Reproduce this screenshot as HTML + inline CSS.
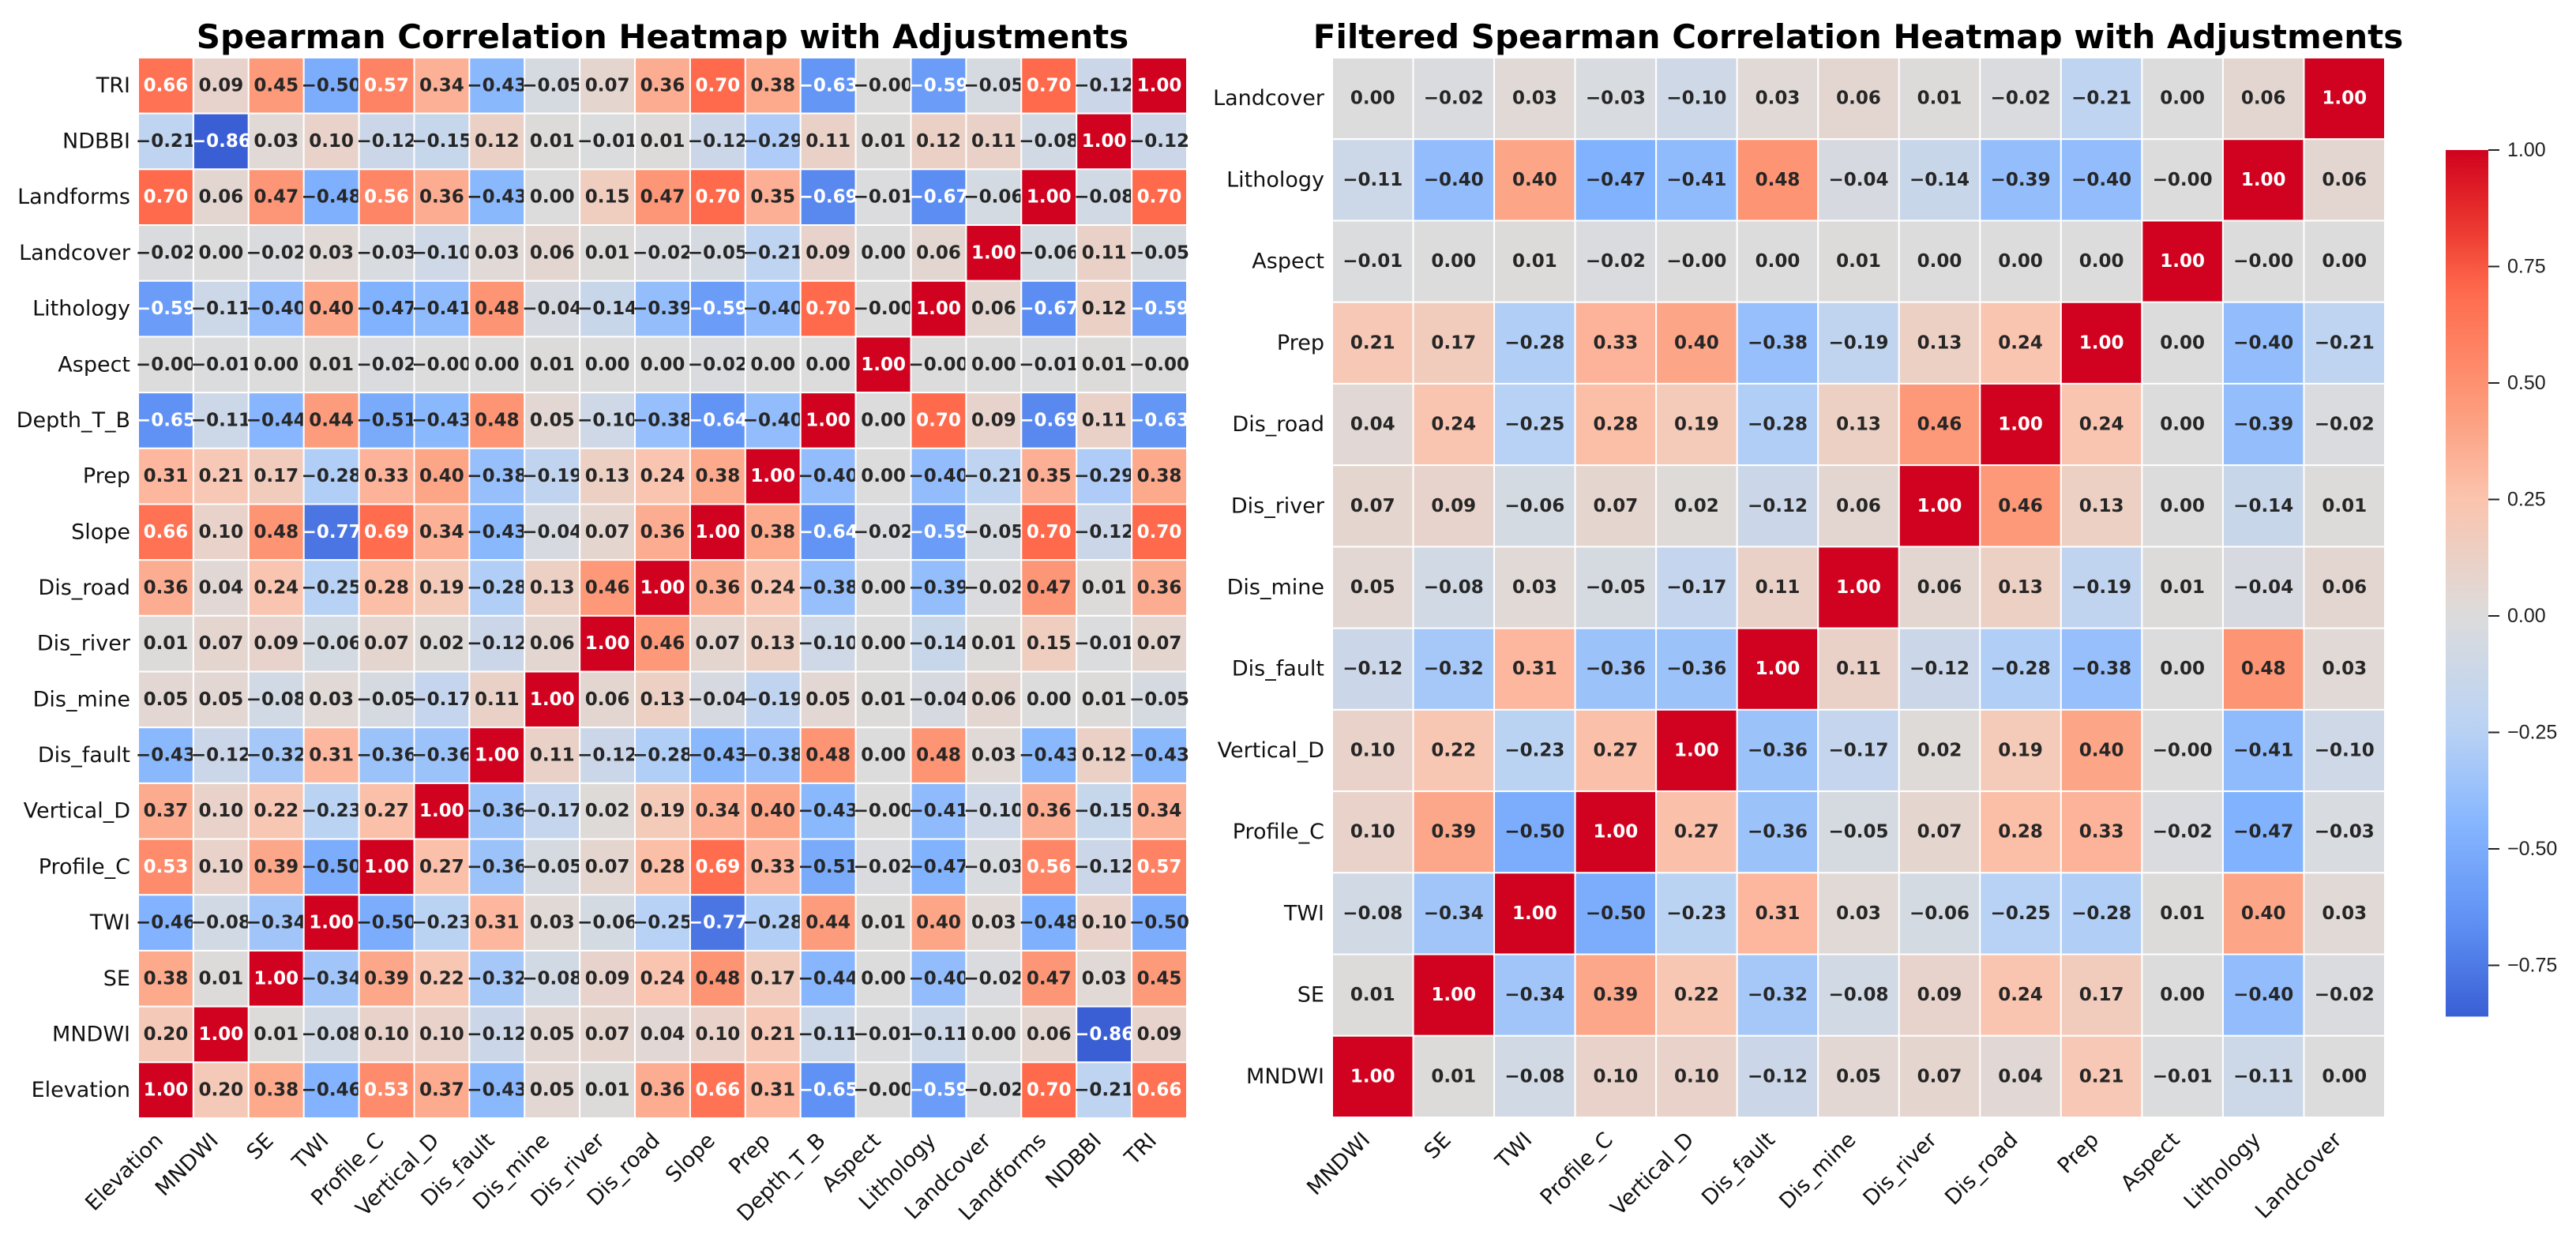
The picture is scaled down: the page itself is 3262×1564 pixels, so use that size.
<!DOCTYPE html>
<html><head><meta charset="utf-8">
<style>
html,body{margin:0;padding:0;background:#fff;}
svg{display:block;}
</style></head>
<body>
<svg id="chart" width="3262" height="1564" viewBox="0 0 3262 1564" xmlns="http://www.w3.org/2000/svg">
<text x="839" y="61" text-anchor="middle" font-family="DejaVu Sans, sans-serif" font-weight="bold" font-size="42">Spearman Correlation Heatmap with Adjustments</text>
<text x="2353" y="61" text-anchor="middle" font-family="DejaVu Sans, sans-serif" font-weight="bold" font-size="42">Filtered Spearman Correlation Heatmap with Adjustments</text>
<g id="left"></g>
<g id="right"></g>
<g id="cbar"></g>
</svg>
<script>
const leftRows = ["TRI","NDBBI","Landforms","Landcover","Lithology","Aspect","Depth_T_B","Prep","Slope","Dis_road","Dis_river","Dis_mine","Dis_fault","Vertical_D","Profile_C","TWI","SE","MNDWI","Elevation"];
const leftCols = ["Elevation","MNDWI","SE","TWI","Profile_C","Vertical_D","Dis_fault","Dis_mine","Dis_river","Dis_road","Slope","Prep","Depth_T_B","Aspect","Lithology","Landcover","Landforms","NDBBI","TRI"];
const leftValues = [
[0.66,0.09,0.45,-0.50,0.57,0.34,-0.43,-0.05,0.07,0.36,0.70,0.38,-0.63,-0.001,-0.59,-0.05,0.70,-0.12,1.00],
[-0.21,-0.86,0.03,0.10,-0.12,-0.15,0.12,0.01,-0.01,0.01,-0.12,-0.29,0.11,0.01,0.12,0.11,-0.08,1.00,-0.12],
[0.70,0.06,0.47,-0.48,0.56,0.36,-0.43,0.00,0.15,0.47,0.70,0.35,-0.69,-0.01,-0.67,-0.06,1.00,-0.08,0.70],
[-0.02,0.00,-0.02,0.03,-0.03,-0.10,0.03,0.06,0.01,-0.02,-0.05,-0.21,0.09,0.00,0.06,1.00,-0.06,0.11,-0.05],
[-0.59,-0.11,-0.40,0.40,-0.47,-0.41,0.48,-0.04,-0.14,-0.39,-0.59,-0.40,0.70,-0.001,1.00,0.06,-0.67,0.12,-0.59],
[-0.001,-0.01,0.00,0.01,-0.02,-0.001,0.00,0.01,0.00,0.00,-0.02,0.00,0.00,1.00,-0.001,0.00,-0.01,0.01,-0.001],
[-0.65,-0.11,-0.44,0.44,-0.51,-0.43,0.48,0.05,-0.10,-0.38,-0.64,-0.40,1.00,0.00,0.70,0.09,-0.69,0.11,-0.63],
[0.31,0.21,0.17,-0.28,0.33,0.40,-0.38,-0.19,0.13,0.24,0.38,1.00,-0.40,0.00,-0.40,-0.21,0.35,-0.29,0.38],
[0.66,0.10,0.48,-0.77,0.69,0.34,-0.43,-0.04,0.07,0.36,1.00,0.38,-0.64,-0.02,-0.59,-0.05,0.70,-0.12,0.70],
[0.36,0.04,0.24,-0.25,0.28,0.19,-0.28,0.13,0.46,1.00,0.36,0.24,-0.38,0.00,-0.39,-0.02,0.47,0.01,0.36],
[0.01,0.07,0.09,-0.06,0.07,0.02,-0.12,0.06,1.00,0.46,0.07,0.13,-0.10,0.00,-0.14,0.01,0.15,-0.01,0.07],
[0.05,0.05,-0.08,0.03,-0.05,-0.17,0.11,1.00,0.06,0.13,-0.04,-0.19,0.05,0.01,-0.04,0.06,0.00,0.01,-0.05],
[-0.43,-0.12,-0.32,0.31,-0.36,-0.36,1.00,0.11,-0.12,-0.28,-0.43,-0.38,0.48,0.00,0.48,0.03,-0.43,0.12,-0.43],
[0.37,0.10,0.22,-0.23,0.27,1.00,-0.36,-0.17,0.02,0.19,0.34,0.40,-0.43,-0.001,-0.41,-0.10,0.36,-0.15,0.34],
[0.53,0.10,0.39,-0.50,1.00,0.27,-0.36,-0.05,0.07,0.28,0.69,0.33,-0.51,-0.02,-0.47,-0.03,0.56,-0.12,0.57],
[-0.46,-0.08,-0.34,1.00,-0.50,-0.23,0.31,0.03,-0.06,-0.25,-0.77,-0.28,0.44,0.01,0.40,0.03,-0.48,0.10,-0.50],
[0.38,0.01,1.00,-0.34,0.39,0.22,-0.32,-0.08,0.09,0.24,0.48,0.17,-0.44,0.00,-0.40,-0.02,0.47,0.03,0.45],
[0.20,1.00,0.01,-0.08,0.10,0.10,-0.12,0.05,0.07,0.04,0.10,0.21,-0.11,-0.01,-0.11,0.00,0.06,-0.86,0.09],
[1.00,0.20,0.38,-0.46,0.53,0.37,-0.43,0.05,0.01,0.36,0.66,0.31,-0.65,-0.001,-0.59,-0.02,0.70,-0.21,0.66]
];
const rightRows = ["Landcover","Lithology","Aspect","Prep","Dis_road","Dis_river","Dis_mine","Dis_fault","Vertical_D","Profile_C","TWI","SE","MNDWI"];
const rightCols = ["MNDWI","SE","TWI","Profile_C","Vertical_D","Dis_fault","Dis_mine","Dis_river","Dis_road","Prep","Aspect","Lithology","Landcover"];
const rightValues = [
[0.00,-0.02,0.03,-0.03,-0.10,0.03,0.06,0.01,-0.02,-0.21,0.00,0.06,1.00],
[-0.11,-0.40,0.40,-0.47,-0.41,0.48,-0.04,-0.14,-0.39,-0.40,-0.001,1.00,0.06],
[-0.01,0.00,0.01,-0.02,-0.001,0.00,0.01,0.00,0.00,0.00,1.00,-0.001,0.00],
[0.21,0.17,-0.28,0.33,0.40,-0.38,-0.19,0.13,0.24,1.00,0.00,-0.40,-0.21],
[0.04,0.24,-0.25,0.28,0.19,-0.28,0.13,0.46,1.00,0.24,0.00,-0.39,-0.02],
[0.07,0.09,-0.06,0.07,0.02,-0.12,0.06,1.00,0.46,0.13,0.00,-0.14,0.01],
[0.05,-0.08,0.03,-0.05,-0.17,0.11,1.00,0.06,0.13,-0.19,0.01,-0.04,0.06],
[-0.12,-0.32,0.31,-0.36,-0.36,1.00,0.11,-0.12,-0.28,-0.38,0.00,0.48,0.03],
[0.10,0.22,-0.23,0.27,1.00,-0.36,-0.17,0.02,0.19,0.40,-0.001,-0.41,-0.10],
[0.10,0.39,-0.50,1.00,0.27,-0.36,-0.05,0.07,0.28,0.33,-0.02,-0.47,-0.03],
[-0.08,-0.34,1.00,-0.50,-0.23,0.31,0.03,-0.06,-0.25,-0.28,0.01,0.40,0.03],
[0.01,1.00,-0.34,0.39,0.22,-0.32,-0.08,0.09,0.24,0.17,0.00,-0.40,-0.02],
[1.00,0.01,-0.08,0.10,0.10,-0.12,0.05,0.07,0.04,0.21,-0.01,-0.11,0.00]
];
const cbarTicks = [1.00,0.75,0.50,0.25,0.00,-0.25,-0.50,-0.75];
const cbarMin = -0.86, cbarMax = 1.00;

const NS = "http://www.w3.org/2000/svg";
const stops = [[-0.86,[58,95,213]],[-0.65,[96,146,245]],[-0.45,[133,181,254]],[-0.25,[184,210,245]],[0,[220,220,220]],[0.25,[251,196,174]],[0.45,[253,154,122]],[0.7,[255,106,76]],[0.85,[233,50,45]],[1.0,[208,2,31]]];
function color(v){
  if(v<=stops[0][0]) return rgb(stops[0][1]);
  for(let i=1;i<stops.length;i++){
    if(v<=stops[i][0]){
      const a=stops[i-1],b=stops[i],t=(v-a[0])/(b[0]-a[0]);
      return rgb(a[1].map((c,k)=>c+(b[1][k]-c)*t));
    }
  }
  return rgb(stops[stops.length-1][1]);
}
function rgb(c){return "rgb("+c.map(x=>Math.round(x)).join(",")+")";}
function fmt(v){const s=Math.abs(v).toFixed(2);return (v<0?"\u2212":"")+s;}
function mk(tag,attrs,parent){const e=document.createElementNS(NS,tag);for(const k in attrs)e.setAttribute(k,attrs[k]);parent.appendChild(e);return e;}

function heatmap(g,rows,cols,vals,x0,y0,w,h){
  const cw=w/cols.length, ch=h/rows.length;
  const xs=j=>x0+j*cw, ys=i=>y0+i*ch;
  rows.forEach((r,i)=>{
    cols.forEach((c,j)=>{
      const v=vals[i][j];
      const rect=mk("rect",{x:xs(j),y:ys(i),width:cw,height:ch,fill:color(v),stroke:"#fff","stroke-width":2},g);
      
      
      const t=mk("text",{x:xs(j)+cw/2,y:ys(i)+ch/2,"text-anchor":"middle","dominant-baseline":"central","font-family":"DejaVu Sans, sans-serif","font-weight":"bold","font-size":23,fill:(v>0.52||v<-0.55)?"#fff":"#262626"},g);
      
      
      t.textContent=fmt(v);
    });
    const yl=mk("text",{x:x0-10,y:ys(i)+ch/2,"text-anchor":"end","dominant-baseline":"central","font-family":"DejaVu Sans, sans-serif","font-size":27,fill:"#111"},g);
    
    
    yl.textContent=r;
  });
  cols.forEach((c,j)=>{
    const cx=xs(j)+cw/2-2, cy=y0+h+30;
    const xl=mk("text",{x:cx,y:cy,"text-anchor":"end","font-family":"DejaVu Sans, sans-serif","font-size":27,fill:"#111",transform:"rotate(-45 "+cx+" "+cy+")"},g);
    
    
    xl.textContent=c;
  });
}
heatmap(document.getElementById("left"),leftRows,leftCols,leftValues,175,73,1328,1343);
heatmap(document.getElementById("right"),rightRows,rightCols,rightValues,1687,73,1333,1342);

const cb=document.getElementById("cbar");
const cbTop=190, pxPerUnit=590, cbX=3097, cbW=54;
const ys=v=>cbTop+(cbarMax-v)*pxPerUnit;
const defs=mk("defs",{},cb);
const lg=mk("linearGradient",{id:"cbg",x1:0,y1:1,x2:0,y2:0},defs);
for(let k=0;k<=40;k++){const v=cbarMin+(cbarMax-cbarMin)*k/40;mk("stop",{offset:(k/40),"stop-color":color(v)},lg);}
const bar=mk("rect",{x:cbX,y:ys(cbarMax),width:cbW,height:ys(cbarMin)-ys(cbarMax),fill:"url(#cbg)"},cb);


cbarTicks.forEach(v=>{
  const y=ys(v);
  const tk=mk("line",{x1:cbX+cbW,x2:cbX+cbW+14,y1:y,y2:y,stroke:"#222","stroke-width":2},cb);
  
  
  const tl=mk("text",{x:cbX+cbW+24,y:y,"dominant-baseline":"central","font-family":"Liberation Sans, sans-serif","font-size":25,fill:"#222"},cb);
  
  
  tl.textContent=fmt(v);
});
</script>
</body></html>
